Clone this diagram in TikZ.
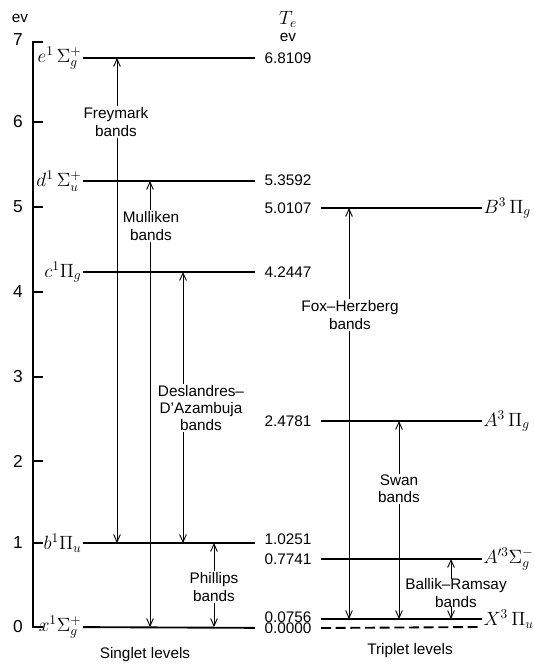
\documentclass[tikz,border=0pt]{standalone}
\usepackage[no-math]{fontspec}
\setsansfont{Liberation Sans}
\usetikzlibrary{arrows.meta}
\begin{document}
\begin{tikzpicture}[x=0.75pt,y=-0.75pt, every node/.style={font=\sffamily\fontsize{11.5}{13}\selectfont}]
  \tikzstyle{lvl}=[line width=1.4pt]
  \tikzstyle{state}=[font=\fontsize{14.5}{16}\selectfont,inner xsep=1pt,inner ysep=0pt]
  \tikzstyle{energy}=[inner xsep=7pt,inner ysep=1pt]
  \tikzstyle{band}=[{Straight Barb[length=5.5pt,width=5pt]}-{Straight Barb[length=5.5pt,width=5pt]},line width=0.7pt]
  \tikzstyle{bandtxt}=[fill=white,align=center,inner sep=1pt]
  \useasboundingbox (0,0) rectangle (533,668);
  \draw[line width=0.8pt] (43,42) -- (33,42) -- (33,627) -- (43,627);
  \foreach \y in {122,207,292,377,461,543} \draw[line width=0.8pt] (33,\y) -- (43,\y);
  \foreach \v/\y in {0/627,1/543,2/461,3/377,4/292,5/207,6/122,7/40}
    \node[font=\sffamily\fontsize{13}{15}\selectfont] (t\v) at (18,\y) {\v};
  \node (evl) at (20,18) {ev};
  \node[font=\fontsize{14}{15}\selectfont] (te) at (288,19) {$T_e$};
  \node (teu) at (288,37) {ev};

  \node[state,anchor=east] (e1) at (83,58) {$e^1\,\Sigma_g^+$};
  \node[state,anchor=east] (d1) at (83,181) {$d^1\,\Sigma_u^+$};
  \node[state,anchor=east] (c1) at (83,272) {$c^1\Pi_g$};
  \node[state,anchor=east] (b1) at (83,543) {$b^1\Pi_u$};
  \node[state,anchor=east] (x1) at (83,627) {$x^1\Sigma_g^+$};
  \node[energy] (e1v) at (288,58) {6.8109};
  \node[energy] (d1v) at (288,180) {5.3592};
  \node[energy] (c1v) at (288,272) {4.2447};
  \node[energy] (b1v) at (288,539) {1.0251};
  \node[energy] (x1v) at (288,628) {0.0000};
  \draw[lvl] (e1) -- (e1v);
  \draw[lvl] (d1.east) -- (d1.east -| d1v.west);
  \draw[lvl] (c1) -- (c1v);
  \draw[lvl] (b1.east) -- (b1.east -| b1v.west);
  \draw[lvl] (x1) -- (x1v);

  \node[energy] (B3v) at (288,208) {5.0107};
  \node[energy] (A3v) at (288,421) {2.4781};
  \node[energy] (Ap3v) at (288,559) {0.7741};
  \node[energy] (X3v) at (288,617) {0.0756};
  \node[state,anchor=west] (B3) at (482,208) {$B^3\,\Pi_g$};
  \node[state,anchor=west] (A3) at (482,421) {$A^3\,\Pi_g$};
  \node[state,anchor=west] (Ap3) at (482,559) {$A^{\prime 3}\Sigma_g^-$};
  \node[state,anchor=west] (X3) at (482,619) {$X^3\,\Pi_u$};
  \coordinate (zend) at (481,627);
  \draw[lvl] (B3v) -- (B3);
  \draw[lvl] (A3v) -- (A3);
  \draw[lvl] (Ap3v) -- (Ap3);
  \draw[lvl] (X3v.east |- X3) -- (X3);
  \draw[lvl,dash pattern=on 7.5pt off 3.5pt] (x1v.east) -- (zend);

  \coordinate (fr) at (117,0);
  \coordinate (mu) at (150,0);
  \coordinate (de) at (183,0);
  \coordinate (ph) at (214,0);
  \coordinate (fh) at (349,0);
  \coordinate (sw) at (399,0);
  \coordinate (br) at (451,0);
  \draw[band] (fr |- b1) -- (fr |- e1);
  \draw[band] (mu |- x1) -- (mu |- d1);
  \draw[band] (de |- b1) -- (de |- c1);
  \draw[band] (ph |- x1) -- (ph |- b1);
  \draw[band] (fh |- X3) -- (fh |- B3);
  \draw[band] (sw |- X3) -- (sw |- A3);
  \draw[band] (br |- X3) -- (br |- Ap3);
  \node[bandtxt] (frt) at (116,122) {Freymark\\bands};
  \node[bandtxt] (mut) at (151,226) {Mulliken\\bands};
  \node[bandtxt] (det) at (201,408) {Deslandres--\\D'Azambuja\\bands};
  \node[bandtxt] (pht) at (214,587) {Phillips\\bands};
  \node[bandtxt] (fht) at (350,315) {Fox--Herzberg\\bands};
  \node[bandtxt] (swt) at (399,489) {Swan\\bands};
  \node[bandtxt,inner sep=0pt] (brt) at (456,593) {Ballik--Ramsay\\bands};

  \node (sgl) at (145,655) {Singlet levels};
  \node (tpl) at (410,651) {Triplet levels};
\end{tikzpicture}
\end{document}
